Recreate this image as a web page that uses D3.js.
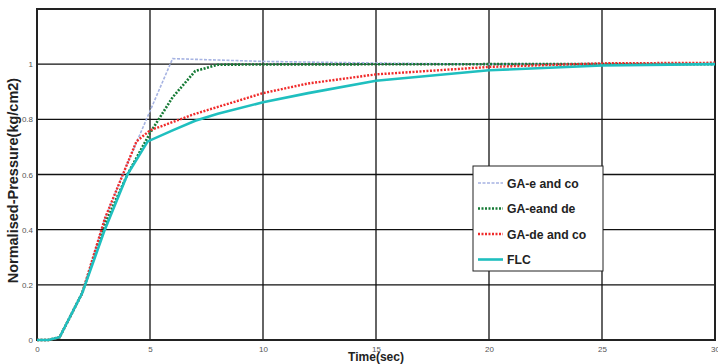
<!DOCTYPE html>
<html>
<head>
<meta charset="utf-8">
<title>Normalised pressure</title>
<script src="https://d3js.org/d3.v7.min.js"></script>
<style>
 body { margin: 0; background: #fff; }
 .tick text { font: 8px "Liberation Sans", Arial, sans-serif; fill: #555; }
 .label { font: bold 12px "Liberation Sans", Arial, sans-serif; fill: #222; }
 .ylabel { font: bold 14.5px "Liberation Sans", Arial, sans-serif; fill: #222; }
 .legend text { font: bold 12.2px "Liberation Sans", Arial, sans-serif; fill: #222; }
</style>
</head>
<body>
<div id="chart"></div>
<script>
var xTicks = [0, 5, 10, 15, 20, 25, 30];
var yTicks = [0, 0.2, 0.4, 0.6, 0.8, 1];

var tBlue = [0, 0.5, 1, 2, 3, 4, 6, 8, 10, 15, 20, 30];
var vBlue = [0, 0, 0.01, 0.17, 0.44, 0.64, 1.02, 1.015, 1.01, 1.004, 1.0, 1.0];

var tGreen = [0, 0.5, 1, 2, 3, 4, 5, 6, 7, 8, 10, 20, 30];
var vGreen = [0, 0, 0.01, 0.17, 0.42, 0.6, 0.75, 0.88, 0.975, 0.998, 0.999, 1.0, 1.0];

var tRed = [0, 0.5, 1, 2, 3, 4, 4.4, 5, 6, 7, 8, 10, 12, 15, 20, 25, 30];
var vRed = [0, 0, 0.01, 0.17, 0.44, 0.64, 0.72, 0.76, 0.79, 0.82, 0.845, 0.895, 0.93, 0.963, 0.99, 1.003, 1.005];

var tFlc = [0, 0.5, 1, 2, 3, 4, 4.9, 6, 7, 8, 10, 12, 15, 20, 25, 30];
var vFlc = [0, 0, 0.01, 0.17, 0.4, 0.6, 0.72, 0.76, 0.795, 0.82, 0.862, 0.895, 0.94, 0.978, 0.995, 1.0];

var names = ["GA-e and co", "GA-eand de", "GA-de and co", "FLC"];

var margin = {top: 9, right: 2, bottom: 24, left: 37};
var W = 718, H = 364;
var width = W - margin.left - margin.right;
var height = H - margin.top - margin.bottom;

var x = d3.scaleLinear().domain([0, 30]).range([0, 678]);
var y = d3.scaleLinear().domain([0, 1.2]).range([height, 0]);

var svg = d3.select("#chart").append("svg")
  .attr("width", W).attr("height", H)
  .append("g")
  .attr("transform", "translate(" + margin.left + "," + margin.top + ")");

// grid
svg.append("g").selectAll("line").data(xTicks.slice(1, -1)).enter().append("line")
  .attr("x1", d => x(d)).attr("x2", d => x(d))
  .attr("y1", 0).attr("y2", height)
  .attr("stroke", "#111").attr("stroke-width", 1.3);
svg.append("g").selectAll("line").data(yTicks.slice(1)).enter().append("line")
  .attr("x1", 0).attr("x2", width)
  .attr("y1", d => y(d)).attr("y2", d => y(d))
  .attr("stroke", "#111").attr("stroke-width", 1.3);

// axes
svg.append("g")
  .attr("transform", "translate(0," + height + ")")
  .call(d3.axisBottom(x).tickValues(xTicks).tickSize(0).tickPadding(6))
  .call(g => g.select(".domain").remove());
svg.append("g")
  .call(d3.axisLeft(y).tickValues(yTicks).tickFormat(d3.format("~g")).tickSize(0).tickPadding(4))
  .call(g => g.select(".domain").remove());

// frame
svg.append("rect")
  .attr("x", 0).attr("y", 0).attr("width", width - 1).attr("height", height)
  .attr("fill", "none").attr("stroke", "#222").attr("stroke-width", 2);

var series = [
  {t: tBlue, v: vBlue, color: "#a6b3e2", w: 1.6, dash: "3,1.5"},
  {t: tGreen, v: vGreen, color: "#157a35", w: 2.6, dash: "2,1.5"},
  {t: tRed, v: vRed, color: "#f02a2a", w: 2.4, dash: "2,1.5"},
  {t: tFlc, v: vFlc, color: "#1fbfbf", w: 2.6, dash: null}
];

var line = d3.line().x(d => x(d[0])).y(d => y(d[1]));

svg.selectAll(".series").data(series).enter().append("path")
  .attr("class", "series")
  .attr("fill", "none")
  .attr("stroke", d => d.color)
  .attr("stroke-width", d => d.w)
  .attr("stroke-dasharray", d => d.dash)
  .attr("d", d => line(d.t.map((t, i) => [t, d.v[i]])));

// legend
var lg = svg.append("g").attr("class", "legend").attr("transform", "translate(436,157)");
lg.append("rect").attr("width", 130).attr("height", 105)
  .attr("fill", "#fff").attr("stroke", "#222").attr("stroke-width", 1);
series.forEach(function(s, i) {
  var yy = 17 + i * 25.5;
  lg.append("line").attr("x1", 5).attr("x2", 30).attr("y1", yy).attr("y2", yy)
    .attr("stroke", s.color).attr("stroke-width", s.w).attr("stroke-dasharray", s.dash);
  lg.append("text").attr("x", 34).attr("y", yy + 4.5).text(names[i]);
});

// labels
svg.append("text").attr("class", "label")
  .attr("x", x(15)).attr("y", height + 21)
  .attr("text-anchor", "middle").text("Time(sec)");
svg.append("text").attr("class", "ylabel")
  .attr("transform", "translate(-19," + y(0.578) + ") rotate(-90)")
  .attr("text-anchor", "middle").text("Normalised-Pressure(kg/cm2)");
</script>
</body>
</html>
